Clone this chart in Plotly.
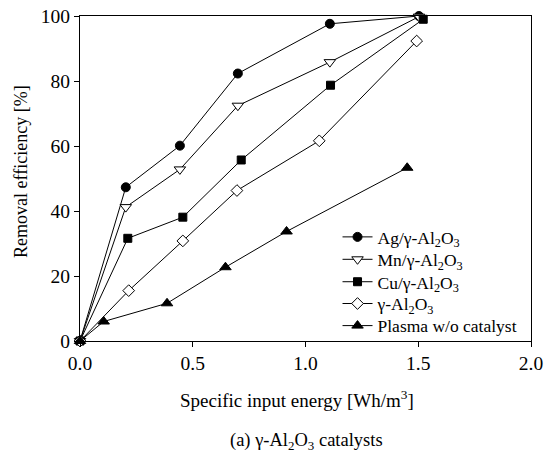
import plotly.graph_objects as go

ag_x = [0.0, 0.203, 0.443, 0.700, 1.108, 1.503]
ag_y = [0.0, 47.3, 60.1, 82.3, 97.6, 100.0]
mn_x = [0.0, 0.203, 0.443, 0.700, 1.108, 1.503]
mn_y = [0.0, 41.2, 52.8, 72.4, 85.8, 99.8]
cu_x = [0.0, 0.212, 0.456, 0.715, 1.111, 1.522]
cu_y = [0.0, 31.6, 38.1, 55.7, 78.7, 99.0]
ga_x = [0.0, 0.216, 0.456, 0.696, 1.061, 1.493]
ga_y = [0.0, 15.5, 30.8, 46.3, 61.6, 92.3]
pl_x = [0.0, 0.105, 0.386, 0.645, 0.916, 1.451]
pl_y = [0.0, 6.0, 11.6, 22.7, 33.7, 53.3]

names = ["Ag/γ-Al<sub>2</sub>O<sub>3</sub>", "Mn/γ-Al<sub>2</sub>O<sub>3</sub>",
         "Cu/γ-Al<sub>2</sub>O<sub>3</sub>", "γ-Al<sub>2</sub>O<sub>3</sub>",
         "Plasma w/o catalyst"]
x_ticks = [0.0, 0.5, 1.0, 1.5, 2.0]
y_ticks = [0, 20, 40, 60, 80, 100]

series = [
    (ag_x, ag_y, "circle", "black", 9),
    (mn_x, mn_y, "triangle-down", "white", 10),
    (cu_x, cu_y, "square", "black", 8),
    (ga_x, ga_y, "diamond", "white", 9),
    (pl_x, pl_y, "triangle-up", "black", 10),
]

FONT = "Liberation Serif"
legend_keys = ["legend", "legend2", "legend3", "legend4", "legend5"]
legend_y = [0.320, 0.251, 0.182, 0.115, 0.047]

fig = go.Figure()
for (xs, ys, sym, fill, sz), nm, lk in zip(series, names, legend_keys):
    fig.add_trace(go.Scatter(
        x=xs, y=ys, name=nm, mode="lines+markers", cliponaxis=False,
        legend=lk,
        line=dict(color="black", width=1),
        marker=dict(symbol=sym, size=sz, color=fill,
                    line=dict(color="black", width=1)),
    ))

leg = {}
for lk, ly in zip(legend_keys, legend_y):
    leg[lk] = dict(x=0.571, y=ly, xanchor="left", yanchor="middle",
                   bgcolor="rgba(0,0,0,0)", borderwidth=0,
                   font=dict(family=FONT, size=17.5))

fig.update_layout(
    width=545, height=454,
    margin=dict(l=80, r=14, t=16, b=113, autoexpand=False),
    paper_bgcolor="white", plot_bgcolor="white",
    font=dict(family=FONT, size=17, color="black"),
    showlegend=True,
    **leg,
    xaxis=dict(range=[0, 2], tickvals=x_ticks, tickformat=".1f",
               showline=True, linecolor="black", linewidth=1, mirror=True,
               ticks="outside", ticklen=5, tickcolor="black", automargin=False,
               showgrid=False, zeroline=False,
               tickfont=dict(family=FONT, size=19.5)),
    yaxis=dict(range=[0, 100], tickvals=y_ticks,
               showline=True, linecolor="black", linewidth=1, mirror=True,
               ticks="outside", ticklen=5, tickcolor="black", automargin=False,
               showgrid=False, zeroline=False,
               tickfont=dict(family=FONT, size=19.5)),
    annotations=[
        dict(text="Specific input energy [Wh/m<sup>3</sup>]", xref="paper", yref="paper",
             x=0.481, y=-0.177, xanchor="center", yanchor="middle",
             showarrow=False, font=dict(family=FONT, size=19)),
        dict(text="(a) γ-Al<sub>2</sub>O<sub>3</sub> catalysts", xref="paper", yref="paper",
             x=0.502, y=-0.309, xanchor="center", yanchor="middle",
             showarrow=False, font=dict(family=FONT, size=18.5)),
        dict(text="Removal efficiency [%]", xref="paper", yref="paper",
             x=-0.131, y=0.523, textangle=-90, xanchor="center", yanchor="middle",
             showarrow=False, font=dict(family=FONT, size=18)),
    ],
)

fig.write_html("out.html", config={"displayModeBar": False},
               post_script="document.body.style.margin='0';document.body.style.overflow='hidden';")
